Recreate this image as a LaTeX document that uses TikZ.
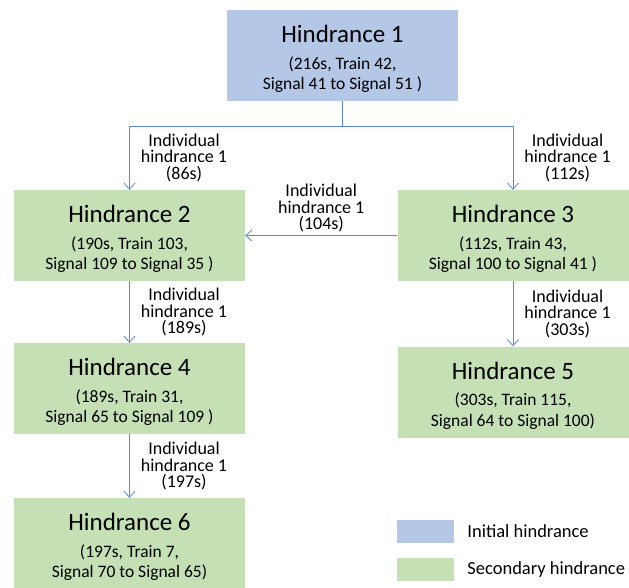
\documentclass[tikz,border=0pt]{standalone}
\usepackage{fontspec}
\setmainfont{Carlito}
\usepackage{xcolor}
\usetikzlibrary{arrows.meta, positioning}
\definecolor{initblue}{RGB}{180,199,231}
\definecolor{secgreen}{RGB}{197,224,180}
\definecolor{linkblue}{RGB}{91,135,214}
\newcommand{\htitle}[1]{{\fontsize{25}{28}\selectfont\rule{0pt}{24pt}#1}\\[6pt]}

\begin{document}
\begin{tikzpicture}[x=1pt, y=-1pt,
  hbox/.style={rectangle, minimum width=231pt, minimum height=91pt, align=center, inner sep=0pt, font=\fontsize{17.5}{20.5}\selectfont},
  link/.style={draw=linkblue, line width=0.8pt, -{Straight Barb[length=6pt, width=11pt, line width=0.8pt]}},
  lbl/.style={align=center, inner sep=0pt, font=\fontsize{18}{16.5}\selectfont},
  swatch/.style={rectangle, minimum width=57pt, minimum height=23pt, inner sep=0pt},
  legtxt/.style={inner sep=0pt, font=\fontsize{18.5}{20}\selectfont}]
\useasboundingbox (0,0) rectangle (629,587);
\node[hbox, fill=initblue] (h1) at (342.5,55.5) {\htitle{Hindrance 1}(216s, Train 42,\\Signal 41 to Signal 51 )};
\node[hbox, fill=secgreen] (h2) at (129.5,235.5) {\htitle{Hindrance 2}(190s, Train 103,\\Signal 109 to Signal 35 )};
\node[hbox, fill=secgreen] (h3) at (513,235.5) {\htitle{Hindrance 3}(112s, Train 43,\\Signal 100 to Signal 41 )};
\node[hbox, fill=secgreen] (h4) at (129.5,388.5) {\htitle{Hindrance 4}(189s, Train 31,\\Signal 65 to Signal 109 )};
\node[hbox, fill=secgreen] (h5) at (513,392) {\htitle{Hindrance 5}(303s, Train 115,\\Signal 64 to Signal 100)};
\node[hbox, fill=secgreen] (h6) at (129.5,543.5) {\htitle{Hindrance 6}(197s, Train 7,\\Signal 70 to Signal 65)};
\coordinate (fork) at (342.5,126);
\draw[draw=linkblue, line width=0.8pt] (h1.south) -- (fork);
\draw[link] (fork) -| (h2.north) node[lbl, pos=0.75, right=11pt] (l12) {Individual\\hindrance 1\\(86s)};
\draw[link] (fork) -| (h3.north) node[lbl, pos=0.75, right=11pt] (l13) {Individual\\hindrance 1\\(112s)};
\draw[link] (h3.west) -- (h2.east) node[lbl, midway, above=3pt] (l32) {Individual\\hindrance 1\\(104s)};
\draw[link] (h2.south) -- (h4.north) node[lbl, midway, right=11pt] (l24) {Individual\\hindrance 1\\(189s)};
\draw[link] (h3.south) -- (h5.north) node[lbl, midway, right=11pt] (l35) {Individual\\hindrance 1\\(303s)};
\draw[link] (h4.south) -- (h6.north) node[lbl, midway, right=11pt] (l46) {Individual\\hindrance 1\\(197s)};
\node[swatch, fill=initblue] (lgi) at (425.5,531.5) {};
\node[swatch, fill=secgreen] (lgs) at (425.5,569.5) {};
\node[legtxt, right=13pt of lgi] (lgitxt) {Initial hindrance};
\node[legtxt, right=13pt of lgs] (lgstxt) {Secondary hindrance};
\end{tikzpicture}
\end{document}
